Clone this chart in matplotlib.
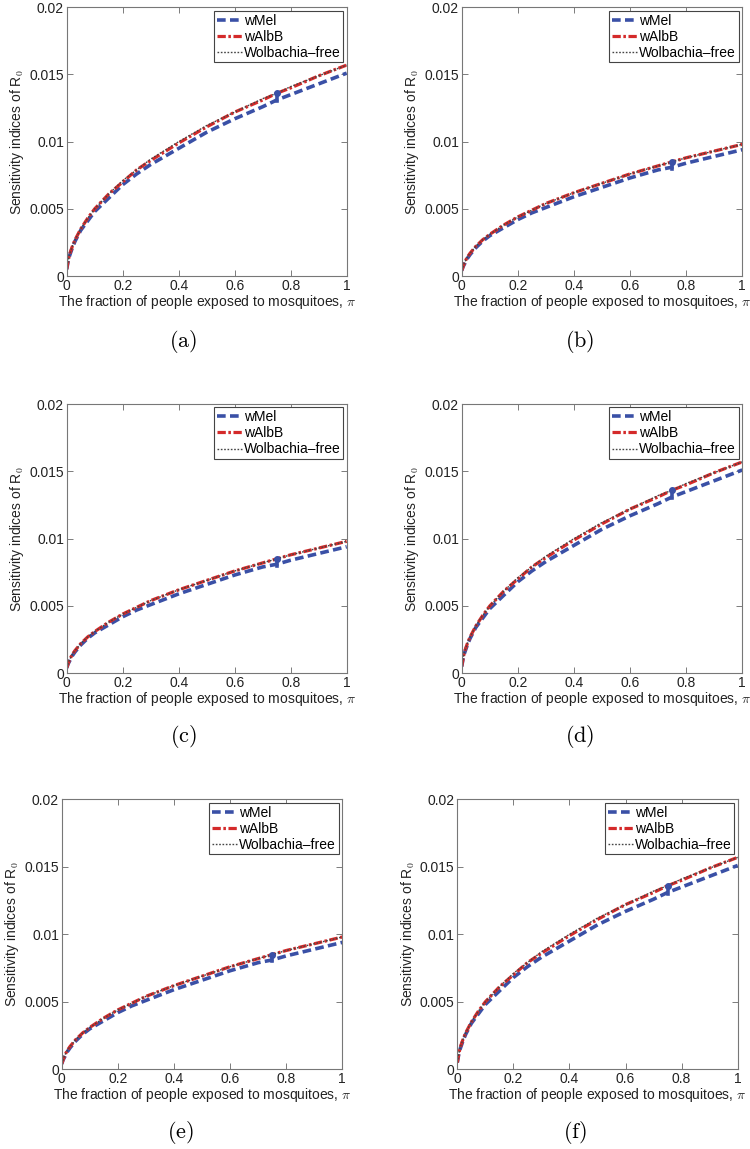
import numpy as np
import matplotlib.pyplot as plt

plt.rcParams['font.family'] = ['Liberation Sans', 'DejaVu Sans']
plt.rcParams['mathtext.fontset'] = 'cm'

# fraction of people exposed to mosquitoes
pi_vals = [0, 0.005, 0.01, 0.02, 0.03, 0.05, 0.075, 0.1, 0.15, 0.2, 0.25, 0.3,
           0.4, 0.5, 0.6, 0.7, 0.75, 0.8, 0.9, 1.0]

# panels a, d, f (larger sensitivity)
wmel_hi = [0.0005, 0.0011, 0.0015, 0.0021, 0.0026, 0.0034, 0.0041, 0.0048, 0.0058, 0.0068,
           0.0076, 0.0083, 0.0095, 0.0107, 0.0117, 0.0126, 0.0131, 0.0135, 0.0143, 0.0151]
walbb_hi = [0.0005, 0.0011, 0.0016, 0.0022, 0.0027, 0.0035, 0.0043, 0.0050, 0.0061, 0.0070,
            0.0079, 0.0086, 0.0099, 0.0111, 0.0122, 0.0131, 0.0136, 0.0140, 0.0149, 0.0157]
wfree_hi = [0.0005, 0.0011, 0.0016, 0.0022, 0.0027, 0.0035, 0.0043, 0.0050, 0.0061, 0.0071,
            0.0079, 0.0087, 0.0100, 0.0112, 0.0122, 0.0132, 0.0136, 0.0141, 0.0149, 0.0157]

# panels b, c, e (smaller sensitivity)
wmel_lo = [0.0004, 0.0007, 0.0009, 0.0013, 0.0016, 0.0021, 0.0026, 0.0030, 0.0036, 0.0042,
           0.0047, 0.0051, 0.0059, 0.0066, 0.0073, 0.0079, 0.0081, 0.0084, 0.0089, 0.0094]
walbb_lo = [0.0004, 0.0007, 0.0010, 0.0014, 0.0017, 0.0022, 0.0027, 0.0031, 0.0038, 0.0044,
            0.0049, 0.0054, 0.0062, 0.0069, 0.0076, 0.0082, 0.0085, 0.0088, 0.0093, 0.0098]
wfree_lo = [0.0004, 0.0007, 0.0010, 0.0014, 0.0017, 0.0022, 0.0027, 0.0031, 0.0038, 0.0044,
            0.0049, 0.0054, 0.0062, 0.0069, 0.0076, 0.0082, 0.0085, 0.0088, 0.0093, 0.0098]

mark_x = 0.75   # baseline value marked on wMel curve
panel_names = ['(a)', '(b)', '(c)', '(d)', '(e)', '(f)']
panel_kind = ['hi', 'lo', 'lo', 'hi', 'lo', 'hi']

xticks = [0, 0.2, 0.4, 0.6, 0.8, 1]
xticklabels = ['0', '0.2', '0.4', '0.6', '0.8', '1']
yticks = [0, 0.005, 0.01, 0.015, 0.02]
yticklabels = ['0', '0.005', '0.01', '0.015', '0.02']

W, H = 750, 1149
# axes boxes in pixels: left, top, right, bottom
boxes = [(66.7, 7.3, 346.7, 276), (461.7, 7.3, 742.3, 276),
         (66.7, 404, 346.7, 673.3), (461.7, 404, 742.3, 673.3),
         (61.7, 799.3, 342.3, 1069.3), (457.3, 799.3, 737.7, 1069.3)]
label_pos = [(183, 342), (580, 342), (183, 737), (580, 737), (180, 1133), (575, 1133)]

fig = plt.figure(figsize=(W / 100, H / 100), dpi=100)

blue = '#3a50a6'
red = '#d42a2a'

for i in range(6):
    l, t, r, b = boxes[i]
    ax = fig.add_axes([l / W, 1 - b / H, (r - l) / W, (b - t) / H])
    if panel_kind[i] == 'hi':
        wm, wa, wf = wmel_hi, walbb_hi, wfree_hi
    else:
        wm, wa, wf = wmel_lo, walbb_lo, wfree_lo

    ax.plot(pi_vals, wm, color=blue, lw=2.6, dashes=(2.4, 1.2), label='wMel')
    ax.plot(pi_vals, wa, color=red, lw=2.3, dashes=(2.6, 0.8, 0.8, 0.8), label='wAlbB')
    ax.plot(pi_vals, wf, color='#444444', lw=1.0, dashes=(1.2, 1.2), label='Wolbachia\u2013free')

    k = pi_vals.index(mark_x)
    ax.plot([mark_x, mark_x], [wm[k] - 0.0001, wa[k]], color=blue, lw=2.6)
    ax.plot([mark_x], [wa[k]], 'o', color=blue, ms=4)

    ax.set_xlim(0, 1)
    ax.set_ylim(0, 0.02)
    ax.set_xticks(xticks)
    ax.set_xticklabels(xticklabels)
    ax.set_yticks(yticks)
    ax.set_yticklabels(yticklabels)
    ax.tick_params(direction='in', top=True, right=True, length=4, width=0.6,
                   color='#666666', labelsize=10, labelcolor='#222222', pad=2)
    for s in ax.spines.values():
        s.set_color('#777777')
        s.set_linewidth(0.8)
    ax.set_xlabel('The fraction of people exposed to mosquitoes, $\\pi$', fontsize=10,
                  color='#222222', labelpad=0)
    ax.set_ylabel('Sensitivity indices of R$_0$', fontsize=10, color='#222222', labelpad=2)
    leg = ax.legend(loc='upper right', fontsize=10, handlelength=1.8, handletextpad=0.15,
                    borderpad=0.2, labelspacing=0.15, borderaxespad=0.25, fancybox=False,
                    framealpha=1)
    leg.get_frame().set_edgecolor('#444444')
    leg.get_frame().set_linewidth(0.8)

    lx, ly = label_pos[i]
    fig.text(lx / W, 1 - ly / H, '$\\mathrm{' + panel_names[i] + '}$', fontsize=16,
             ha='center', va='center')

fig.savefig('out.png', dpi=100)
